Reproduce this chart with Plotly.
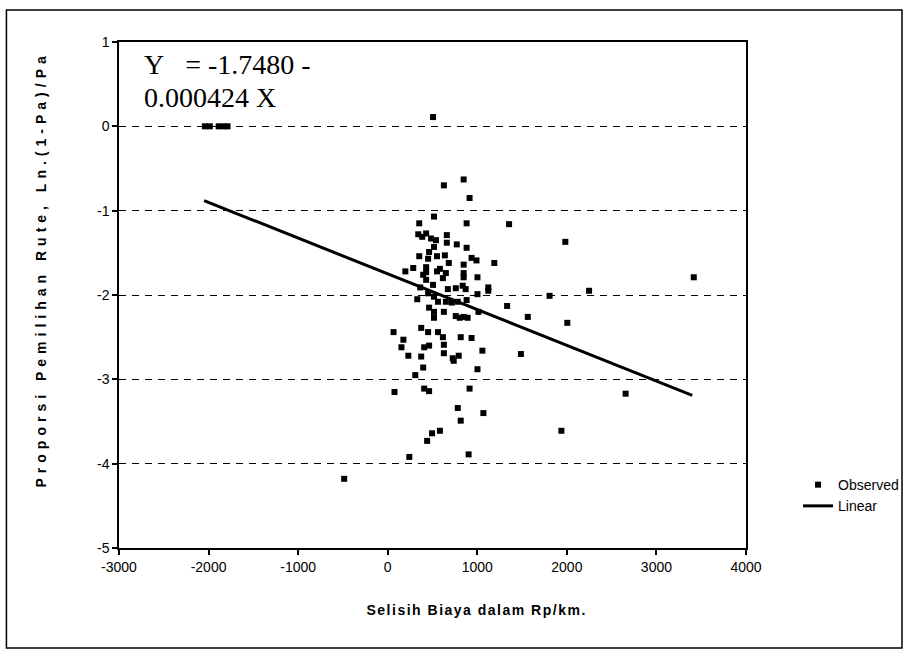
import plotly.graph_objects as go

# Observed points: X = cost difference (Rp/km), Y = Ln((1-Pa)/Pa)
obs_x = [-2041, -1986, -1887, -1832, -1788,
         506, 627, 848, 914, 517, 352, 881, 1355, 341, 385, 429, 484, 539, 660, 660,
         771, 517, 881, 462, 352, 550, 638, 451, 936, 991, 1190, 682, 848, 429, 285,
         197, 429, 550, 583, 848, 396, 649, 616, 1002, 429, 848, 506, 363, 1123, 1123,
         671, 760, 837, 870, 1002, 330, 451, 517, 561, 649, 715, 782, 881, 1333, 462,
         517, 627, 760, 848, 517, 804, 892, 1013, 1564, 65, 374, 451, 561, 616, 815,
         936, 175, 153, 407, 462, 627, 1057, 1487, 230, 374, 627, 726, 793, 396, 1002,
         737, 308, 76, 407, 462, 914, 782, 1068, 815, 583, 495, 440, 241, 903, -486,
         1983, 3417, 1807, 2248, 2005, 2656, 1939]
obs_y = [0.0, 0.0, 0.0, 0.0, 0.0,
         0.11, -0.70, -0.63, -0.85, -1.07, -1.15, -1.15, -1.16, -1.28, -1.31, -1.27, -1.33, -1.35, -1.29, -1.38,
         -1.40, -1.43, -1.44, -1.49, -1.54, -1.54, -1.53, -1.57, -1.56, -1.59, -1.62, -1.62, -1.64, -1.67, -1.68,
         -1.72, -1.73, -1.72, -1.69, -1.74, -1.76, -1.74, -1.80, -1.79, -1.82, -1.79, -1.88, -1.91, -1.91, -1.95,
         -1.93, -1.92, -1.89, -1.93, -1.99, -2.05, -1.98, -2.02, -2.08, -2.08, -2.09, -2.08, -2.06, -2.13, -2.15,
         -2.20, -2.20, -2.25, -2.26, -2.27, -2.27, -2.27, -2.20, -2.26, -2.44, -2.39, -2.44, -2.44, -2.50, -2.50,
         -2.51, -2.53, -2.62, -2.62, -2.60, -2.59, -2.66, -2.70, -2.72, -2.73, -2.69, -2.75, -2.72, -2.86, -2.88,
         -2.78, -2.95, -3.15, -3.11, -3.14, -3.11, -3.34, -3.40, -3.49, -3.61, -3.64, -3.73, -3.92, -3.89, -4.18,
         -1.37, -1.79, -2.01, -1.95, -2.33, -3.17, -3.61]

# Fitted linear line endpoints (Y = -1.7480 - 0.000424 X)
line_x = [-2050, 3400]
line_y = [-0.88, -3.19]

# Tick values and labels (hyphen minus as in the original)
x_tickvals = [-3000, -2000, -1000, 0, 1000, 2000, 3000, 4000]
x_ticktext = ["-3000", "-2000", "-1000", "0", "1000", "2000", "3000", "4000"]
y_tickvals = [1, 0, -1, -2, -3, -4, -5]
y_ticktext = ["1", "0", "-1", "-2", "-3", "-4", "-5"]

eq_line1 = "Y\u00a0\u00a0\u00a0= -1.7480 -"
eq_line2 = "0.000424 X"
x_title = "Selisih Biaya dalam Rp/km."
y_title = "Proporsi Pemilihan Rute, Ln.(1-Pa)/Pa"

SANS = "Liberation Sans, Arial, sans-serif"
SERIF = "Liberation Serif, Times New Roman, serif"

fig = go.Figure()
fig.add_trace(go.Scatter(
    x=obs_x, y=obs_y, mode="markers", name="Observed",
    marker=dict(symbol="square", size=6, color="black"),
))
fig.add_trace(go.Scatter(
    x=line_x, y=line_y, mode="lines", name="Linear",
    line=dict(color="black", width=3),
))

axis_common = dict(
    showline=True, linecolor="black", linewidth=1.5, mirror=True,
    ticks="outside", ticklen=5, tickcolor="black", tickwidth=1.5,
    zeroline=False, tickfont=dict(family=SANS, size=14, color="black"),
    tickmode="array",
)
fig.update_xaxes(range=[-3000, 4000], tickvals=x_tickvals, ticktext=x_ticktext,
                 showgrid=False, **axis_common)
fig.update_yaxes(range=[-5, 1], tickvals=y_tickvals, ticktext=y_ticktext,
                 showgrid=True, gridcolor="black",
                 gridwidth=1, griddash="7px,6px", **axis_common)

fig.update_layout(
    width=916, height=659,
    margin=dict(l=119, r=162, t=42, b=111),
    paper_bgcolor="white", plot_bgcolor="white",
    font=dict(family=SANS, size=14, color="black"),
    showlegend=True,
    legend=dict(x=1.083, y=0.156, xanchor="left", yanchor="top",
                font=dict(family=SANS, size=14, color="black"),
                bgcolor="rgba(0,0,0,0)", tracegroupgap=6),
    annotations=[
        dict(text=eq_line1, xref="paper", yref="paper", x=0.036, y=(548 - 65) / 506,
             xanchor="left", yanchor="middle", showarrow=False,
             font=dict(family=SERIF, size=28, color="black")),
        dict(text=eq_line2, xref="paper", yref="paper", x=0.036, y=(548 - 97) / 506,
             xanchor="left", yanchor="middle", showarrow=False,
             font=dict(family=SERIF, size=28, color="black")),
        dict(text="<b>" + x_title + "</b>", xref="paper", yref="paper",
             x=(481 - 119) / 635, y=(548 - 610) / 506, xanchor="center", yanchor="middle",
             showarrow=False, font=dict(family=SANS, size=14, color="black")),
        dict(text="<b>" + y_title + "</b>", xref="paper", yref="paper",
             x=(40 - 119) / 635, y=(548 - 269) / 506, xanchor="center", yanchor="middle",
             textangle=-90, showarrow=False, font=dict(family=SANS, size=14, color="black")),
    ],
    shapes=[
        dict(type="rect", xref="paper", yref="paper",
             x0=(5 - 119) / 635, x1=(912 - 119) / 635,
             y0=(548 - 648) / 506, y1=(548 - 10) / 506,
             line=dict(color="black", width=1.5), fillcolor="rgba(0,0,0,0)", layer="below"),
    ],
)

post = """
var gd = document.getElementById('{plot_id}');
function spaceTitles(){
  gd.querySelectorAll('text.annotation-text').forEach(function(t){
    var s = t.textContent || '';
    if (s.indexOf('Selisih') === 0) { t.style.letterSpacing = '1.5px'; }
    if (s.indexOf('Proporsi') === 0) { t.style.letterSpacing = '5px'; }
  });
}
spaceTitles();
if (gd.on) { gd.on('plotly_afterplot', spaceTitles); }
"""

fig.write_html("out.html", post_script=post)
